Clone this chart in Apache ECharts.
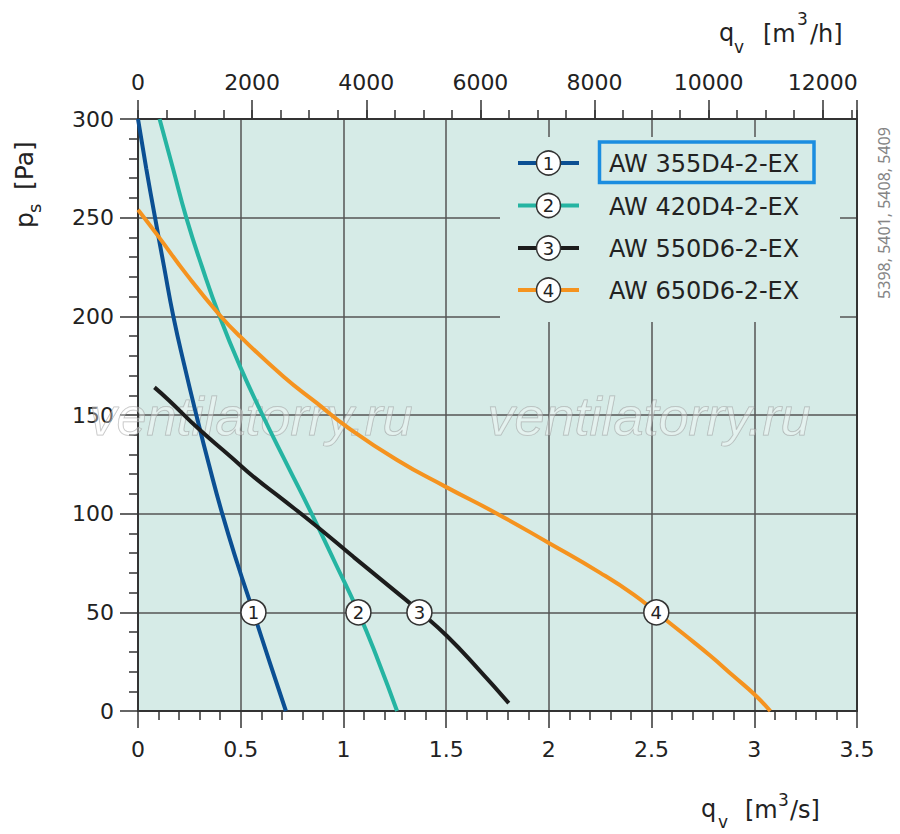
<!DOCTYPE html>
<html>
<head>
<meta charset="utf-8">
<script src="https://cdn.jsdelivr.net/npm/echarts@6/dist/echarts.min.js"></script>
<style>
  html, body { margin: 0; padding: 0; background: #fff; }
  #chart { width: 900px; height: 834px; }
</style>
</head>
<body>
<div id="chart"></div>
<script>
// fan curves: [qv m3/s, ps Pa]
const curve1 = [[0, 300], [0.04, 275], [0.083, 250], [0.127, 225], [0.172, 200], [0.226, 175], [0.284, 150],
  [0.345, 125], [0.41, 100], [0.483, 75], [0.562, 50], [0.64, 25], [0.72, 0]];
const curve2 = [[0.105, 300], [0.17, 275], [0.235, 250], [0.312, 225], [0.397, 200], [0.495, 175], [0.606, 150],
  [0.725, 125], [0.845, 100], [0.96, 75], [1.073, 50], [1.171, 25], [1.261, 0]];
const curve3 = [[0.08, 164], [0.15, 157.5], [0.295, 143], [0.45, 129], [0.571, 118], [0.701, 107.5], [0.877, 93],
  [1.05, 78], [1.261, 60], [1.37, 50.5], [1.504, 38], [1.659, 21], [1.805, 4]];
const curve4 = [[0, 254], [0.1, 240.4], [0.238, 221], [0.397, 200.7], [0.498, 189.7], [0.709, 169.4], [0.871, 156],
  [1.009, 144.6], [1.261, 127.2], [1.496, 113.7], [1.748, 100], [2.002, 85], [2.25, 70], [2.413, 59], [2.523, 50],
  [2.656, 39], [2.786, 28], [2.9, 17.6], [3.005, 8], [3.078, 0]];

const curves = [curve1, curve2, curve3, curve4];
const seriesNames = ['AW 355D4-2-EX', 'AW 420D4-2-EX', 'AW 550D6-2-EX', 'AW 650D6-2-EX'];
const seriesColors = ['#0b4f93', '#25b4a2', '#1c1c1c', '#f5931f'];
const curveLabels = ['1', '2', '3', '4'];
const labelPoints = [[0.562, 50], [1.073, 50], [1.37, 50], [2.523, 50]];

const xTicksM3s = { min: 0, max: 3.5, interval: 0.5 };
const xTicksM3h = { min: 0, max: 12600, interval: 2000, minor: 500 };
const yTicksPa = { min: 0, max: 300, interval: 50 };
const sideNote = '5398, 5401, 5408, 5409';
const watermark = 'ventilatorry.ru';

const FONT = 'DejaVu Sans';
const plotBg = '#d6ebe7';
const gridColor = '#555';
const axisColor = '#333';

const chart = echarts.init(document.getElementById('chart'), null, { renderer: 'svg' });

const gridRect = { left: 138, right: 43, top: 119, bottom: 123 };

const lineSeries = curves.map((d, i) => ({
  type: 'line',
  name: seriesNames[i],
  data: d,
  xAxisIndex: 0,
  yAxisIndex: 0,
  smooth: 0.5,
  showSymbol: false,
  lineStyle: { color: seriesColors[i], width: 4 },
  z: 3
}));

const markerSeries = {
  type: 'scatter',
  xAxisIndex: 0,
  yAxisIndex: 0,
  symbol: 'circle',
  symbolSize: 25,
  data: labelPoints.map((p, i) => ({ value: p, label: { formatter: curveLabels[i] } })),
  itemStyle: { color: '#fff', borderColor: '#333', borderWidth: 1.5, opacity: 1 },
  label: { show: true, position: 'inside', color: '#222', fontSize: 18, fontFamily: FONT },
  z: 5
};

// legend drawn by hand: line + circled number + name
const legendRows = [163, 205.5, 248, 290];
const legendGraphics = [
  { type: 'rect', shape: { x: 500, y: 137, width: 340, height: 185 }, style: { fill: plotBg }, z: 3 }
];
seriesNames.forEach((name, i) => {
  const y = legendRows[i];
  legendGraphics.push(
    { type: 'line', shape: { x1: 518, y1: y, x2: 579, y2: y }, style: { stroke: seriesColors[i], lineWidth: 4 }, z: 4 },
    { type: 'circle', shape: { cx: 548.5, cy: y, r: 12 }, style: { fill: '#fff', stroke: '#333', lineWidth: 1.5 }, z: 5 },
    { type: 'text', x: 548.5, y: y, style: { text: curveLabels[i], fill: '#222', font: '18px "' + FONT + '"', align: 'center', verticalAlign: 'middle' }, z: 6 },
    { type: 'text', x: 609, y: y + 1, style: { text: name, fill: '#222', font: '24px "' + FONT + '"', align: 'left', verticalAlign: 'middle' }, z: 6 }
  );
});
legendGraphics.push({
  type: 'rect', shape: { x: 599.5, y: 142, width: 214.5, height: 40.5 },
  style: { fill: 'none', stroke: '#1b8de0', lineWidth: 3.5 }, z: 6
});

function txt(x, y, text, size, extra) {
  return Object.assign({
    type: 'text', x: x, y: y,
    style: { text: text, fill: '#222', font: size + 'px "' + FONT + '"', align: 'left', verticalAlign: 'middle' },
    z: 6
  }, extra || {});
}

const titleGraphics = [
  // top: qv [m3/h]
  txt(719, 33, 'q', 24), txt(734, 47, 'v', 17), txt(763, 34, '[m', 24), txt(797, 19, '3', 17), txt(810, 34, '/h]', 24),
  // bottom: qv [m3/s]
  txt(701, 809, 'q', 24), txt(718, 822, 'v', 17), txt(745, 810, '[m', 24), txt(778, 800, '3', 17), txt(790, 810, '/s]', 24),
  // left: ps [Pa]
  {
    type: 'group', x: 24, y: 228, rotation: Math.PI / 2,
    children: [txt(0, 0, 'p', 25), txt(15, 10, 's', 18), txt(38, 0, '[Pa]', 25)]
  },
  {
    type: 'text', x: 884, y: 213, rotation: Math.PI / 2,
    style: { text: sideNote, fill: '#858585', font: '16px "Noto Sans"', align: 'center', verticalAlign: 'middle' }
  }
];

const wmGraphics = [251, 649].map(cx => ({
  type: 'text', x: cx, y: 416, z: 2,
  style: {
    text: watermark, font: 'italic 54px "Liberation Sans"', align: 'center', verticalAlign: 'middle',
    fill: 'rgba(255,255,255,0.35)', stroke: 'rgba(140,140,140,0.55)', lineWidth: 1
  }
}));

const labelStyle = { color: '#222', fontSize: 22, fontFamily: FONT };

chart.setOption({
  animation: false,
  backgroundColor: '#fff',
  grid: [
    Object.assign({ show: true, backgroundColor: plotBg, borderWidth: 0 }, gridRect),
    Object.assign({ show: false }, gridRect)
  ],
  xAxis: [
    {
      type: 'value', gridIndex: 0, position: 'bottom',
      min: xTicksM3s.min, max: xTicksM3s.max, interval: xTicksM3s.interval,
      axisLine: { show: true, onZero: false, lineStyle: { color: axisColor, width: 2 } },
      axisTick: { show: true, length: 17, lineStyle: { color: axisColor, width: 1.5 } },
      minorTick: { show: true, splitNumber: 5, length: 9, lineStyle: { color: axisColor, width: 1.5 } },
      axisLabel: Object.assign({ margin: 27 }, labelStyle),
      splitLine: { show: true, lineStyle: { color: gridColor, width: 1.5 } }
    },
    {
      type: 'value', gridIndex: 0, position: 'top',
      min: xTicksM3h.min, max: xTicksM3h.max, interval: xTicksM3h.interval,
      axisLine: { show: true, onZero: false, lineStyle: { color: axisColor, width: 2 } },
      axisTick: { show: true, length: 19, lineStyle: { color: axisColor, width: 1.5 } },
      axisLabel: Object.assign({
        margin: 26,
        formatter: v => (v % xTicksM3h.interval === 0 ? String(v) : '')
      }, labelStyle),
      splitLine: { show: false }
    },
    {
      type: 'value', gridIndex: 1, position: 'top',
      min: xTicksM3h.min, max: xTicksM3h.max, interval: xTicksM3h.minor,
      axisLine: { show: false, onZero: false },
      axisTick: { show: true, length: 9, lineStyle: { color: axisColor, width: 1.5 } },
      axisLabel: { show: false },
      splitLine: { show: false }
    }
  ],
  yAxis: [
    {
      type: 'value', gridIndex: 0, position: 'left',
      min: yTicksPa.min, max: yTicksPa.max, interval: yTicksPa.interval,
      axisLine: { show: true, onZero: false, lineStyle: { color: axisColor, width: 2 } },
      axisTick: { show: true, length: 18, lineStyle: { color: axisColor, width: 1.5 } },
      minorTick: { show: true, splitNumber: 5, length: 9, lineStyle: { color: axisColor, width: 1.5 } },
      axisLabel: Object.assign({ margin: 24 }, labelStyle),
      splitLine: { show: true, lineStyle: { color: gridColor, width: 1.5 } }
    },
    {
      type: 'value', gridIndex: 0, position: 'right',
      min: yTicksPa.min, max: yTicksPa.max, interval: yTicksPa.interval,
      axisLine: { show: true, onZero: false, lineStyle: { color: axisColor, width: 2 } },
      axisTick: { show: false }, axisLabel: { show: false }, splitLine: { show: false }
    },
    {
      type: 'value', gridIndex: 1, min: yTicksPa.min, max: yTicksPa.max, show: false
    }
  ],
  series: lineSeries.concat([markerSeries]),
  graphic: { elements: wmGraphics.concat(legendGraphics, titleGraphics) }
});
</script>
</body>
</html>
